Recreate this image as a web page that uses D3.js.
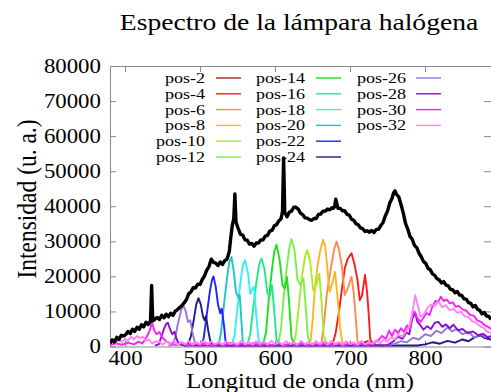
<!DOCTYPE html>
<html>
<head>
<meta charset="utf-8">
<script src="https://cdn.jsdelivr.net/npm/d3@7/dist/d3.min.js"></script>
<style>
  html, body { margin: 0; padding: 0; background: #fff; }
  svg { display: block; }
  svg text { font-family: "Liberation Serif", Tinos, "Times New Roman", Times, "Nimbus Roman", "DejaVu Serif", "Noto Serif", serif !important; fill: #000; }
</style>
</head>
<body>
<svg id="chart" width="491" height="392"></svg>
<script>
// ---- Axis ticks ----
const xTicks = [400, 500, 600, 700, 800];
const yTicks = [0, 10000, 20000, 30000, 40000, 50000, 60000, 70000, 80000];

// ---- Full lamp spectrum (black trace): wavelength (nm) and intensity (a.u.) ----
const lampWavelength = [380,383,386,389,392,395,398,401,404,407,410,413,416,419,422,425,428,431,434,435.5,437,440,443,446,449,452,455,458,461,464,467,470,473,476,479,482,485,488,491,494,497,500,503,506,509,512,515,518,521,524,527,530,533,536,539,541,543,545,546.5,548,551,554,557,560,563,566,569,572,575,578,581,584,587,590,593,596,599,602,605,608,610,611.5,613,616,619,622,625,628,631,634,637,640,643,646,649,652,655,658,661,664,667,670,673,676,678,679.5,681,684,687,690,693,696,699,702,705,708,711,714,717,720,723,726,729,732,735,738,741,744,747,750,753,756,758,760,762,765,768,771,774,777,780,783,786,789,792,795,798,801,804,807,810,813,816,819,822,825,828,831,834,837,840,843,846,849,852,855,858,861,864,867,870,873,876,879,882,885,888];
const lampIntensity = [900,1900,1300,2600,2000,3200,3000,3400,4300,3700,4900,4300,5500,4900,6200,5600,6900,6300,7200,17400,7300,7800,8300,7700,8900,8200,9200,8500,9500,8900,10100,10500,11200,11700,12500,13400,15100,15600,16800,16700,17800,17700,19100,20100,21800,22800,24900,24000,23800,23100,24100,23400,24500,24900,27000,31000,34500,36500,43500,35500,33600,32000,31800,30400,30300,29200,29400,28600,29500,29500,30400,30400,31500,31700,32900,33100,34400,34700,35800,36400,38500,53800,38200,37000,38300,38600,39700,39700,39200,38000,37600,36700,36600,36200,36000,36500,36500,37700,37800,38600,38600,39200,39000,39600,39400,39900,42000,39400,39400,38700,38700,37700,37500,36300,36000,35000,34700,33800,33600,32800,33000,32600,33100,32500,33400,33400,34500,35300,37200,38600,40900,42200,43800,44400,43400,42700,40500,38100,35100,33500,31400,30600,28800,28200,26600,25600,24200,23700,22300,21900,20700,20300,19300,19000,18100,18500,17500,17300,16300,16200,15300,15700,14700,14600,13600,13500,12500,12300,11300,11700,10600,10300,9300,9700,8700,8600,7700,8100,7200,7100,6500,6400,5800];

// ---- Filtered spectra, one per position: [wavelength (nm), intensity (a.u.)] ----
const pos2 = [[700,300],[710,600],[718,1100],[724,1500],[730,900],[736,400],[745,200]];
const pos4 = [[665,300],[672,500],[677,800],[681,4000],[685,9500],[689,16000],[693,22300],[697,25000],[702,26600],[706,23500],[710,19000],[713,13200],[716,14500],[720,20400],[723,15000],[725,9000],[727,2000],[731,600],[736,300]];
const pos6 = [[652,300],[657,400],[662,900],[665,6000],[669,14700],[673,20500],[676,24200],[679,27800],[682,29900],[685,28000],[689,23200],[693,14700],[697,16500],[702,19900],[705,15000],[707,10000],[710,1500],[714,500]];
const pos8 = [[638,300],[642,400],[647,900],[650,7000],[653,16000],[656,22000],[660,27000],[664,30400],[667,28500],[669,24200],[671,19000],[673,15600],[677,18500],[680,21300],[682,17000],[684,12500],[687,5000],[690,900],[694,400]];
const pos10 = [[618,300],[625,500],[628,4000],[632,12000],[636,20000],[640,25500],[643,27500],[647,24000],[651,16000],[655,17500],[659,20800],[662,13000],[665,3000],[669,600],[674,300]];
const pos12 = [[598,300],[604,500],[608,5000],[612,15000],[616,23000],[619,28000],[622,30600],[626,27500],[630,19000],[634,17500],[638,19400],[641,11000],[644,2500],[648,500],[653,300]];
const pos14 = [[578,300],[584,500],[588,4000],[592,14000],[596,22000],[599,27000],[602,29000],[606,25000],[610,17500],[613,16500],[616,19800],[619,12000],[622,2500],[626,500],[631,300]];
const pos16 = [[557,300],[563,500],[567,3500],[571,11000],[575,18000],[579,23500],[582,25100],[586,22000],[590,15000],[593,14500],[596,17500],[599,10000],[602,2000],[606,500],[611,300]];
const pos18 = [[537,300],[542,500],[546,3000],[550,11000],[554,18500],[557,23000],[560,24700],[564,21000],[567,15000],[570,16500],[572,17000],[575,9000],[578,2000],[582,500],[587,300]];
const pos20 = [[520,300],[525,500],[528,4000],[532,12000],[536,19500],[539,24000],[542,25500],[545,21500],[548,15500],[551,14000],[553,14700],[555,8000],[557,1500],[561,400],[566,300]];
const pos22 = [[497,300],[502,500],[505,2500],[509,9000],[513,15500],[516,19000],[518,20000],[521,17000],[524,12000],[527,9500],[529,10800],[532,6000],[534,1500],[538,400],[543,300]];
const pos24 = [[479,300],[484,500],[488,3000],[492,8000],[495,12000],[498,13800],[501,12000],[504,8500],[506,7500],[508,8700],[511,4500],[514,1200],[518,400],[540,300],[790,300],[800,600],[810,1200],[820,800],[830,1600],[840,1100],[850,2000],[858,1500],[866,2600],[874,3200],[880,2400],[888,2000]];
const pos26 = [[458,300],[463,500],[467,2500],[471,7000],[475,10500],[478,11700],[481,10000],[484,7000],[487,7500],[490,4000],[493,1200],[497,400],[520,300],[750,300],[760,800],[768,1500],[776,1200],[784,2500],[792,2000],[800,3500],[808,3000],[815,4500],[822,3800],[830,5500],[836,4300],[842,5000],[850,3500],[858,4200],[866,2500],[874,3500],[881,2600],[888,3000]];
const pos28 = [[440,300],[445,600],[448,2500],[452,5000],[455,6500],[457,6800],[460,5000],[463,3500],[466,4200],[469,2000],[472,600],[480,300],[750,400],[758,1500],[764,2800],[770,2200],[775,4000],[779,3500],[783,8000],[787,9500],[790,7000],[794,6000],[798,4800],[803,5800],[808,5000],[813,6800],[818,7000],[823,5600],[828,6300],[833,5200],[838,6200],[844,4600],[850,5000],[857,3800],[864,4300],[871,3200],[878,3600],[884,2600],[888,2900]];
const pos30 = [[380,400],[388,900],[396,500],[404,1100],[412,600],[418,1400],[423,900],[427,2000],[430,3200],[433,4600],[436,6800],[439,4600],[442,3500],[446,4100],[450,2500],[455,1500],[460,900],[468,400],[476,1000],[484,300],[492,900],[500,400],[508,1000],[516,300],[524,900],[532,400],[540,1000],[548,300],[556,900],[564,400],[572,1000],[580,300],[588,900],[596,400],[604,1000],[612,300],[620,900],[628,400],[636,1000],[644,300],[652,900],[660,400],[668,1000],[676,300],[684,900],[692,400],[700,1000],[708,300],[716,900],[724,500],[732,1200],[738,1800],[743,3000],[748,2200],[752,4500],[756,3000],[760,4800],[764,3800],[768,5200],[772,4200],[776,6000],[780,5000],[783,8500],[786,10000],[790,8000],[794,7000],[798,8200],[802,9500],[806,9000],[810,11500],[814,13000],[818,12800],[821,14200],[825,13000],[829,13400],[833,12300],[837,12600],[841,11300],[845,11600],[850,10600],[855,10200],[860,9000],[865,8800],[870,7400],[875,7000],[880,6000],[884,5600],[888,5000]];
const pos32 = [[380,800],[384,1800],[388,1000],[392,2000],[396,1300],[400,2200],[404,1600],[408,2800],[412,2000],[416,3000],[420,2400],[424,2800],[428,1600],[432,2000],[436,900],[440,1400],[445,1500],[450,500],[455,1400],[460,700],[465,1600],[470,400],[475,1300],[480,600],[485,1500],[490,500],[495,1200],[500,700],[505,1600],[510,500],[515,1400],[520,600],[525,1300],[530,500],[535,1500],[540,700],[545,1200],[550,500],[555,1600],[560,600],[565,1300],[570,500],[575,1500],[580,700],[585,1400],[590,500],[595,1600],[600,600],[605,1300],[610,500],[615,1500],[620,700],[625,1200],[630,500],[635,1600],[640,600],[645,1300],[650,500],[655,1500],[660,700],[665,1400],[670,500],[675,1600],[680,600],[685,1300],[690,500],[695,1500],[700,700],[705,1200],[710,500],[715,1600],[720,600],[725,1300],[730,700],[735,1800],[740,900],[745,2000],[750,1400],[755,2600],[760,2000],[765,3500],[770,2800],[775,4500],[779,5500],[782,8500],[785,12000],[787,14600],[790,12000],[794,8500],[798,9000],[803,11000],[808,12000],[813,11500],[818,12800],[823,11200],[828,11800],[833,10300],[838,10800],[843,9600],[848,9900],[853,8600],[858,8400],[863,7200],[868,6800],[873,5800],[878,5300],[883,4200],[888,3800]];

const seriesNames = ["pos-2","pos-4","pos-6","pos-8","pos-10","pos-12","pos-14","pos-16","pos-18","pos-20","pos-22","pos-24","pos-26","pos-28","pos-30","pos-32"];
const seriesColors = ["#b81c1c","#ff1a1a","#ff8a50","#ffb428","#a8ec28","#78f048","#1ee01e","#22e88c","#34f0f0","#20c4c4","#2222ff","#1c1c88","#9478dc","#8a10d0","#ff1eff","#ff84f2"];
const seriesData = [pos2,pos4,pos6,pos8,pos10,pos12,pos14,pos16,pos18,pos20,pos22,pos24,pos26,pos28,pos30,pos32];

// ---- Layout ----
const plot = { left: 110, right: 491, top: 66, bottom: 346.5 };
const serif = "'Liberation Serif', Tinos, 'Times New Roman', Times, 'Nimbus Roman', 'DejaVu Serif', serif";
const svg = d3.select("#chart");

const x = d3.scaleLinear().domain([380, 888]).range([plot.left, plot.right]);
const y = d3.scaleLinear().domain([0, 80000]).range([plot.bottom, plot.top]);

// Title
svg.append("text")
  .attr("text-anchor", "middle")
  .attr("font-family", serif)
  .attr("transform", "translate(299,30) scale(1.2,1)")
  .style("font-size", "23px")
  .text("Espectro de la lámpara halógena");

// ---- Axes (inward ticks, mirrored on top/right) ----
const axisColor = "#8a8a8a";
function styleAxis(g) {
  g.attr("font-family", serif);
  g.select(".domain").attr("stroke", axisColor).attr("stroke-width", 1);
  g.selectAll(".tick line").attr("stroke", axisColor).attr("stroke-width", 1);
}

const gBottom = svg.append("g")
  .attr("transform", `translate(0,${plot.bottom})`)
  .call(d3.axisBottom(x).tickValues(xTicks).tickSizeInner(-6).tickSizeOuter(0).tickPadding(4.5).tickFormat(d3.format("d")));
styleAxis(gBottom);
gBottom.selectAll("text")
  .attr("transform", "scale(1.14,1)")
  .style("font-size", "20px")
  .attr("fill", "#000");

const gLeft = svg.append("g")
  .attr("transform", `translate(${plot.left},0)`)
  .call(d3.axisLeft(y).tickValues(yTicks).tickSizeInner(-6).tickSizeOuter(0).tickPadding(8).tickFormat(d3.format("d")));
styleAxis(gLeft);
gLeft.selectAll("text")
  .attr("transform", "scale(1.14,1)")
  .style("font-size", "20px")
  .attr("fill", "#000");

const gTop = svg.append("g")
  .attr("transform", `translate(0,${plot.top})`)
  .call(d3.axisTop(x).tickValues(xTicks).tickSizeInner(-6).tickSizeOuter(0).tickFormat(""));
styleAxis(gTop);

const gRight = svg.append("g")
  .attr("transform", `translate(${plot.right},0)`)
  .call(d3.axisRight(y).tickValues(yTicks).tickSizeInner(-7).tickSizeOuter(0).tickFormat(""));
styleAxis(gRight);

// Axis titles
svg.append("text")
  .attr("text-anchor", "middle")
  .attr("font-family", serif)
  .attr("transform", "translate(300,388) scale(1.12,1)")
  .style("font-size", "22px")
  .text("Longitud de onda (nm)");

svg.append("text")
  .attr("text-anchor", "middle")
  .attr("font-family", serif)
  .attr("transform", "translate(36,199) rotate(-90) scale(1,1.12)")
  .style("font-size", "23.5px")
  .text("Intensidad (u. a.)");

// ---- Data traces ----
svg.append("clipPath").attr("id", "plot-clip")
  .append("rect")
  .attr("x", plot.left).attr("y", plot.top)
  .attr("width", plot.right - plot.left).attr("height", plot.bottom - plot.top + 1);

const line = d3.line().x(d => x(d[0])).y(d => y(d[1]));
const traces = svg.append("g").attr("clip-path", "url(#plot-clip)");

traces.selectAll("path.series")
  .data(seriesData)
  .join("path")
  .attr("class", "series")
  .attr("d", line)
  .attr("fill", "none")
  .attr("stroke", (d, i) => seriesColors[i])
  .attr("stroke-width", 1.9)
  .attr("stroke-linejoin", "round");

const lamp = lampWavelength.map((w, i) => [w, lampIntensity[i]]);
traces.append("path")
  .datum(lamp)
  .attr("d", line)
  .attr("fill", "none")
  .attr("stroke", "#000")
  .attr("stroke-width", 3.4)
  .attr("stroke-linejoin", "round");

// ---- Legend: three columns, right-aligned labels with a line sample ----
const legendTextRight = [205, 305, 406];
const legendLineStart = [216, 316, 416];
const legend = svg.append("g").attr("font-family", serif);
seriesNames.forEach((name, i) => {
  const col = Math.floor(i / 6), row = i % 6;
  const cy = 78 + row * 15.8;
  legend.append("text")
    .attr("text-anchor", "end")
    .attr("transform", `translate(${legendTextRight[col]},${cy + 5}) scale(1.18,1)`)
    .style("font-size", "15.3px")
    .text(name);
  legend.append("line")
    .attr("x1", legendLineStart[col]).attr("x2", legendLineStart[col] + 25)
    .attr("y1", cy).attr("y2", cy)
    .attr("stroke", seriesColors[i])
    .attr("stroke-width", 1.4);
});
</script>
</body>
</html>
